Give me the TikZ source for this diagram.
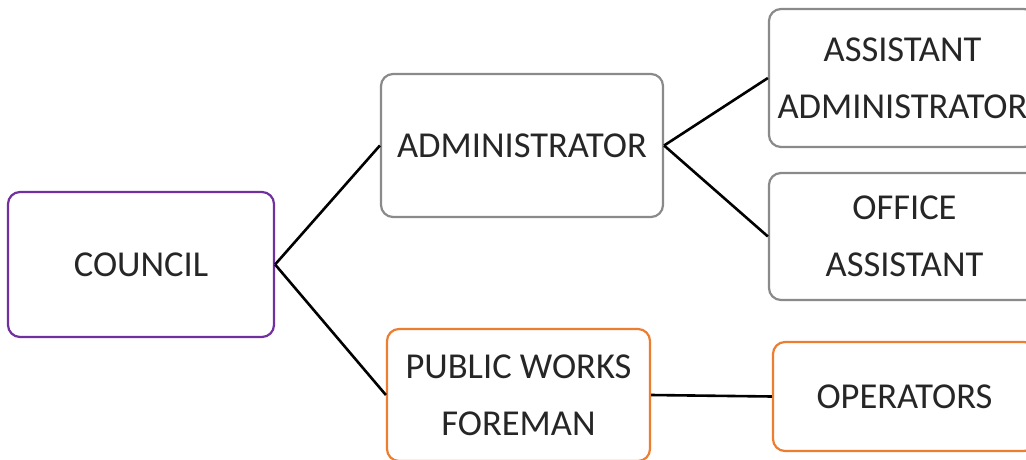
\documentclass[tikz,border=0pt]{standalone}
\usepackage{fontspec}
\setmainfont{Carlito}
\begin{document}
\begin{tikzpicture}[x=1pt,y=-1pt,
  box/.style={draw, line width=2.2pt, rounded corners=12pt, fill=white,
    inner sep=0pt, align=center, text=black!85,
    font=\fontsize{36.5}{57}\selectfont},
  purplebox/.style={box, draw=ccpurple},
  graybox/.style={box, draw=ccgray},
  orangebox/.style={box, draw=ccorange},
  link/.style={line width=2.6pt, draw=black}]
\definecolor{ccpurple}{HTML}{7030A0}
\definecolor{ccgray}{HTML}{8A8A8A}
\definecolor{ccorange}{HTML}{ED7D31}
\useasboundingbox (0,0) rectangle (1026,460);
\fill[white] (0,0) rectangle (1026,460);

% boxes: centre, then size
\node[purplebox, minimum width=266pt, minimum height=145pt] (council) at (141,264.5) {COUNCIL};
\node[graybox, minimum width=282pt, minimum height=143pt] (admin) at (522,145.5) {ADMINISTRATOR};
\node[orangebox, minimum width=263pt, minimum height=132pt] (pwf) at (518.5,395) {PUBLIC WORKS\\FOREMAN};
\node[graybox, minimum width=267pt, minimum height=138pt] (asst) at (902.5,78) {ASSISTANT\\ADMINISTRATOR};
\node[graybox, minimum width=271pt, minimum height=127pt] (office) at (904.5,236.5) {OFFICE\\ASSISTANT};
\node[orangebox, minimum width=263pt, minimum height=109pt] (ops) at (904.5,396.5) {OPERATORS};

% reporting lines
\draw[link] (council.east) -- (admin.west);
\draw[link] (council.east) -- (pwf.west);
\draw[link] (admin.east) -- (asst.west);
\draw[link] (admin.east) -- (office.west);
\draw[link] (pwf.east) -- (ops.west);
\end{tikzpicture}
\end{document}
